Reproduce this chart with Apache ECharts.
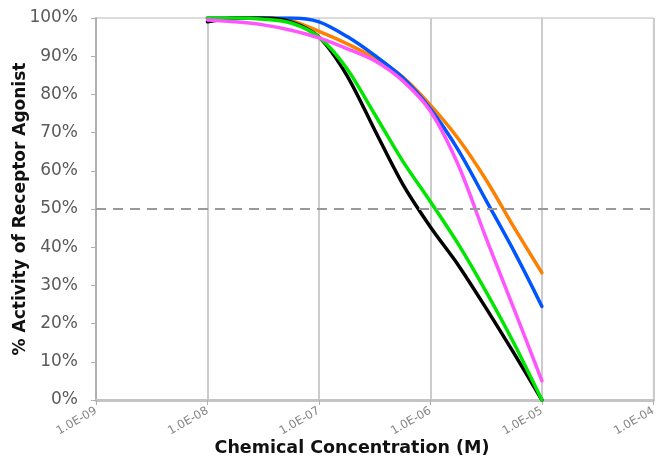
<!DOCTYPE html>
<html>
<head>
<meta charset="utf-8">
<script src="https://cdn.jsdelivr.net/npm/echarts@6/dist/echarts.min.js"></script>
<style>
html,body{margin:0;padding:0;background:#fff;}
#chart{width:659px;height:460px;}
</style>
</head>
<body>
<div id="chart"></div>
<script>
// Concentrations (M): quarter-decade steps from 1E-08 to 1E-05
const concentrations = [1e-8, 1.778e-8, 3.162e-8, 5.623e-8, 1e-7, 1.778e-7, 3.162e-7, 5.623e-7,
                        1e-6, 1.778e-6, 3.162e-6, 5.623e-6, 1e-5];
// % activity values
const blackSeries  = [99, 100, 100, 99, 95, 85, 70.7, 56.6, 45.3, 35.3, 24, 12.2, 0];
const greenSeries  = [100, 100, 99.7, 98.7, 95, 86.8, 74.8, 62.6, 51.9, 40.8, 28.3, 14.8, 0];
const pinkSeries   = [99.5, 99, 98.2, 96.8, 94.8, 92, 88.8, 83.6, 75.6, 61.5, 42.3, 23.8, 5];
const blueSeries   = [100, 100, 100, 100, 99, 95.2, 90.2, 84.4, 76.2, 65.4, 52.2, 38.9, 24.5];
const orangeSeries = [100, 100, 100, 99.3, 96.5, 93.3, 89.5, 84.6, 77.2, 68.4, 57.6, 45.2, 33.3];
const referenceLevel = 50;
// Axis tick labels
const xTickLabels = ['1.0E-09', '1.0E-08', '1.0E-07', '1.0E-06', '1.0E-05', '1.0E-04'];
const xTickExponents = [-9, -8, -7, -6, -5, -4];
const yAxisTitle = '% Activity of Receptor Agonist';
const xAxisTitle = 'Chemical Concentration (M)';

const pair = vals => concentrations.map((c, i) => [c, vals[i]]);
const FONT = '"DejaVu Sans", Verdana, sans-serif';

function mkSeries(name, vals, color, extra) {
  return Object.assign({
    name: name,
    type: 'line',
    data: pair(vals),
    smooth: 0.3,
    showSymbol: false,
    symbol: 'none',
    lineStyle: { color: color, width: 3.5, cap: 'round', join: 'round' },
    itemStyle: { color: color },
    silent: true,
    animation: false
  }, extra || {});
}

const chart = echarts.init(document.getElementById('chart'), null, { renderer: 'canvas' });
chart.setOption({
  animation: false,
  backgroundColor: '#ffffff',
  grid: {
    left: 96, top: 18, right: 2, bottom: 60,
    show: true, borderColor: '#b8b8b8', borderWidth: 1, backgroundColor: 'transparent'
  },
  xAxis: {
    type: 'log',
    logBase: 10,
    min: 1e-9,
    max: 1e-4,
    axisLine: { show: true, lineStyle: { color: '#c4c4c4', width: 3 } },
    axisTick: { show: true, length: 5, lineStyle: { color: '#b0b0b0', width: 1 } },
    splitLine: { show: true, lineStyle: { color: '#cccccc', width: 2 } },
    axisLabel: {
      rotate: 30,
      margin: 10,
      fontFamily: FONT,
      fontSize: 11.5,
      color: '#858585',
      formatter: function (v) {
        const e = Math.round(Math.log10(v));
        const idx = xTickExponents.indexOf(e);
        return idx >= 0 ? xTickLabels[idx] : '';
      }
    }
  },
  yAxis: {
    type: 'value',
    min: 0,
    max: 100,
    interval: 10,
    axisLine: { show: true, lineStyle: { color: '#b0b0b0', width: 2 } },
    axisTick: { show: true, length: 5, lineStyle: { color: '#b0b0b0', width: 1 } },
    splitLine: { show: false },
    axisLabel: {
      margin: 18,
      fontFamily: FONT,
      fontSize: 17,
      color: '#5a5a5a',
      formatter: '{value}%'
    }
  },
  graphic: [
    {
      type: 'text',
      x: 21, y: 209,
      rotation: Math.PI / 2,
      style: {
        text: yAxisTitle,
        font: 'bold 17px ' + FONT,
        fill: '#111',
        textAlign: 'center',
        textVerticalAlign: 'middle'
      }
    },
    {
      type: 'text',
      x: 352, y: 448,
      style: {
        text: xAxisTitle,
        font: 'bold 17.5px ' + FONT,
        fill: '#111',
        textAlign: 'center',
        textVerticalAlign: 'middle'
      }
    }
  ],
  series: [
    mkSeries('Orange', orangeSeries, '#ff8000', {
      markLine: {
        silent: true,
        symbol: 'none',
        label: { show: false },
        lineStyle: { color: '#999999', width: 2, type: [10, 7] },
        data: [{ yAxis: referenceLevel }]
      }
    }),
    mkSeries('Blue', blueSeries, '#0055ff'),
    mkSeries('Black', blackSeries, '#000000'),
    mkSeries('Green', greenSeries, '#00e600'),
    mkSeries('Pink', pinkSeries, '#ff55ff')
  ]
});
</script>
</body>
</html>
